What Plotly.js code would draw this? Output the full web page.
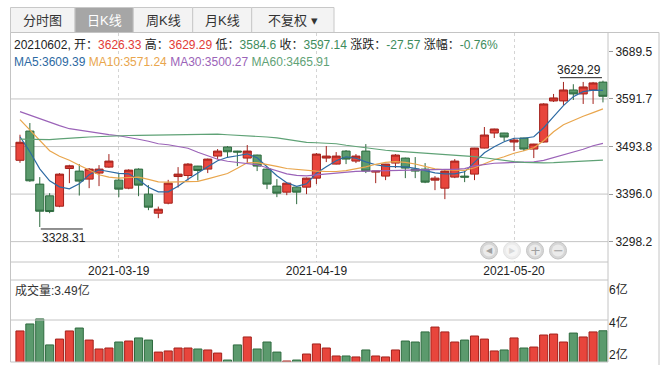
<!DOCTYPE html>
<html><head><meta charset="utf-8">
<script src="https://cdn.plot.ly/plotly-3.0.1.min.js"></script>
<style>html,body{margin:0;padding:0;background:#fff}#chart{width:668px;height:370px}</style>
</head><body><div id="chart"></div>
<script>
const dates = ['2021-03-05','2021-03-08','2021-03-09','2021-03-10','2021-03-11','2021-03-12','2021-03-15','2021-03-16','2021-03-17','2021-03-18',
'2021-03-19','2021-03-22','2021-03-23','2021-03-24','2021-03-25','2021-03-26','2021-03-29','2021-03-30','2021-03-31','2021-04-01',
'2021-04-02','2021-04-06','2021-04-07','2021-04-08','2021-04-09','2021-04-12','2021-04-13','2021-04-14','2021-04-15','2021-04-16',
'2021-04-19','2021-04-20','2021-04-21','2021-04-22','2021-04-23','2021-04-26','2021-04-27','2021-04-28','2021-04-29','2021-04-30',
'2021-05-06','2021-05-07','2021-05-10','2021-05-11','2021-05-12','2021-05-13','2021-05-14','2021-05-17','2021-05-18','2021-05-19',
'2021-05-20','2021-05-21','2021-05-24','2021-05-25','2021-05-26','2021-05-27','2021-05-28','2021-05-31','2021-06-01','2021-06-02'];
const opens = [3465.5,3525.7,3416.5,3392.4,3371.1,3448.6,3443.3,3426.8,3439.2,3451.5,
3424.7,3408.2,3447.4,3395.9,3356.7,3377.3,3432.1,3434.2,3453.6,3447.4,
3474.2,3492.8,3484.5,3470.1,3476.3,3447.4,3412.4,3400.0,3410.3,3410.3,
3428.8,3470.1,3457.7,3484.5,3463.9,3484.5,3441.2,3433.0,3459.8,3470.1,
3447.4,3447.4,3424.7,3408.2,3430.9,3433.0,3437.1,3490.7,3521.6,3521.6,
3503.1,3511.3,3488.6,3503.1,3587.6,3587.6,3610.2,3602.0,3610.2,3626.33];
const highs = [3518.1,3542.2,3430.9,3397.9,3439.0,3456.3,3457.7,3449.5,3455.6,3478.3,
3439.2,3447.0,3449.0,3414.4,3370.3,3425.3,3451.5,3459.8,3454.0,3469.0,
3488.6,3494.8,3485.0,3496.9,3477.0,3449.0,3426.8,3419.0,3411.0,3430.0,
3480.4,3494.8,3482.4,3486.6,3478.3,3498.9,3443.5,3458.0,3478.3,3471.0,
3472.1,3459.8,3433.0,3445.3,3468.0,3445.3,3491.0,3534.0,3530.5,3522.0,
3511.3,3512.0,3499.5,3583.0,3602.0,3626.7,3622.0,3626.7,3626.7,3629.29];
const lows = [3460.4,3421.2,3328.31,3356.7,3369.0,3418.5,3393.0,3408.2,3412.4,3450.0,
3389.7,3406.0,3391.7,3362.9,3346.4,3375.0,3409.5,3423.9,3423.9,3439.2,
3468.0,3472.1,3453.6,3459.8,3443.3,3406.2,3389.7,3393.8,3375.3,3395.9,
3416.5,3461.8,3457.0,3457.7,3459.8,3439.2,3418.5,3424.7,3449.5,3428.8,
3428.8,3418.5,3404.1,3385.6,3428.8,3420.6,3424.7,3490.0,3511.3,3505.1,
3484.5,3484.5,3470.1,3502.0,3585.5,3579.3,3589.6,3581.4,3581.4,3584.6];
const closes = [3502.6,3423.3,3360.8,3360.1,3437.1,3454.2,3422.7,3447.4,3447.4,3463.9,
3406.2,3445.3,3414.4,3369.1,3364.9,3418.5,3437.1,3457.7,3444.5,3468.0,
3484.5,3483.0,3482.5,3484.5,3453.6,3416.5,3397.9,3418.5,3400.0,3428.8,
3478.3,3474.2,3474.2,3468.0,3474.2,3443.3,3443.3,3457.7,3476.3,3449.5,
3443.3,3420.6,3428.8,3443.3,3463.9,3430.9,3490.7,3517.5,3529.9,3513.4,
3507.2,3488.6,3498.9,3581.4,3593.8,3610.2,3602.0,3616.4,3624.71,3597.14];
const ma5 = [3514.0,3483.1,3448.0,3423.3,3410.9,3406.8,3417.1,3435.7,3446.0,3441.8,
3438.7,3437.7,3425.3,3409.9,3400.6,3400.6,3411.9,3426.4,3439.8,3452.1,
3464.5,3471.7,3474.8,3478.9,3470.7,3451.1,3433.6,3419.2,3411.9,3417.1,
3438.7,3452.1,3464.5,3472.8,3469.7,3462.4,3456.3,3453.2,3453.2,3452.1,
3449.0,3443.9,3439.8,3437.7,3437.7,3441.8,3462.4,3481.0,3493.4,3503.7,
3510.9,3510.9,3514.0,3532.5,3555.2,3577.9,3596.4,3606.7,3609.8,3609.39];
const ma10 = [3549.0,3527.4,3504.7,3485.1,3473.8,3465.5,3455.2,3444.9,3435.7,3430.9,
3428.8,3430.1,3430.9,3426.4,3421.2,3420.6,3421.2,3422.9,3422.3,3427.4,
3433.6,3438.3,3449.0,3460.4,3460.8,3457.3,3453.0,3448.6,3446.4,3444.9,
3443.1,3442.5,3442.5,3444.3,3448.0,3452.1,3457.3,3461.4,3462.9,3461.4,
3457.9,3452.6,3448.0,3446.0,3444.9,3444.9,3450.1,3458.3,3466.6,3472.8,
3480.0,3485.1,3491.3,3505.7,3524.3,3538.7,3548.0,3556.2,3563.5,3571.24];
const ma30 = [3565.5,3558.3,3550.1,3542.8,3536.7,3530.5,3527.4,3523.3,3521.2,3518.5,
3516.0,3513.0,3508.8,3504.7,3499.6,3497.5,3494.4,3490.3,3482.0,3474.8,
3467.6,3463.5,3461.0,3459.4,3456.3,3450.1,3443.9,3437.7,3434.6,3433.6,
3435.7,3437.7,3440.2,3441.2,3442.9,3443.3,3443.9,3443.9,3444.3,3444.5,
3444.9,3446.0,3446.6,3447.0,3447.0,3448.4,3454.2,3457.3,3459.4,3460.4,
3460.8,3461.0,3462.4,3465.5,3471.1,3475.8,3482.0,3488.2,3495.4,3500.27];
const ma60 = [3509.2,3508.6,3507.8,3508.2,3509.4,3511.3,3512.3,3513.4,3514.4,3515.6,
3516.0,3516.5,3516.9,3517.3,3517.5,3517.7,3518.1,3518.7,3519.3,3519.5,
3519.3,3518.1,3517.3,3516.5,3514.8,3513.4,3511.5,3508.6,3504.7,3502.2,
3501.6,3501.0,3499.6,3496.5,3493.8,3491.3,3488.2,3486.2,3484.5,3483.1,
3481.4,3480.0,3478.5,3476.9,3476.3,3475.2,3473.2,3470.7,3467.6,3464.9,
3462.9,3461.4,3460.4,3460.4,3460.8,3461.8,3463.3,3464.5,3465.5,3465.91];
const volumes = [3.48,3.91,4.22,2.62,2.98,3.48,3.66,2.92,2.37,2.43,
2.80,2.86,3.05,2.92,2.18,2.25,2.43,2.43,2.37,2.31,
2.12,1.69,2.62,3.11,2.37,2.80,2.18,1.63,1.69,2.06,
2.68,2.43,1.94,1.94,1.88,2.31,1.94,1.88,2.31,2.86,
2.80,3.42,3.72,3.42,2.80,2.92,3.17,2.98,2.25,2.31,
3.05,2.43,2.49,3.23,3.29,2.80,3.35,3.11,3.42,3.49];
const priceTicks = [3298.2, 3396.0, 3493.8, 3591.7, 3689.5];
const dateTicks = ['2021-03-19', '2021-04-19', '2021-05-20'];
const volTicks = [2, 4, 6];
const tabs = ['分时图', '日K线', '周K线', '月K线', '不复权 ▾'];

const W = 668, H = 370;
const px = x => x / W, py = y => 1 - y / H;
const FONT = "Arial, 'Liberation Sans', 'Noto Sans CJK SC', sans-serif";
const RED = '#e8453c', RED_D = '#a3211b', GRN = '#5b9a6d', GRN_D = '#2e6b3f';
const TRED = '#e23b36', TGRN = '#3d8c5c';
const MA_COL = ['#2d6aa3', '#e9a64d', '#9b63b8', '#5fa276'];
const LINE = '#c4c4c4';
const n = dates.length;
const up = closes.map((c, i) => c >= opens[i]);

const XL = 10.5, XR = 608, XO = 659;
const xrange = [-0.96, 59.51];

const traces = [
  {type: 'candlestick', x: dates, open: opens, high: highs, low: lows, close: closes,
   xaxis: 'x', yaxis: 'y', whiskerwidth: 0, hoverinfo: 'skip',
   increasing: {line: {color: RED_D, width: 1}, fillcolor: RED},
   decreasing: {line: {color: GRN_D, width: 1}, fillcolor: GRN}}
];
[ma5, ma10, ma30, ma60].forEach((m, k) => traces.push({
  type: 'scatter', mode: 'lines', x: dates, y: m, xaxis: 'x', yaxis: 'y',
  line: {color: MA_COL[k], width: 1.2}, hoverinfo: 'skip'}));
traces.push({type: 'bar', x: dates, y: volumes, xaxis: 'x2', yaxis: 'y2', hoverinfo: 'skip',
  marker: {color: up.map(u => u ? RED : GRN), line: {color: up.map(u => u ? RED_D : GRN_D), width: 1}}});

const shapes = [];
const hl = (x0, x1, y, c) => shapes.push({type: 'line', xref: 'paper', yref: 'paper', x0: px(x0), x1: px(x1), y0: py(y), y1: py(y), line: {color: c || LINE, width: 1}});
const vl = (x, y0, y1, c) => shapes.push({type: 'line', xref: 'paper', yref: 'paper', x0: px(x), x1: px(x), y0: py(y0), y1: py(y1), line: {color: c || LINE, width: 1}});

// tabs
const tabEdges = [10.5, 75, 133.3, 192.7, 251.7, 334];
const annotations = [];
tabs.forEach((t, i) => {
  const sel = i === 1;
  shapes.push({type: 'rect', xref: 'paper', yref: 'paper', x0: px(tabEdges[i]), x1: px(tabEdges[i + 1]), y0: py(32.5), y1: py(7.5),
    fillcolor: sel ? '#a6a6a6' : '#f3f3f3', line: {color: '#c8c8c8', width: 1}, layer: 'below'});
  annotations.push({xref: 'paper', yref: 'paper', x: px((tabEdges[i] + tabEdges[i + 1]) / 2), y: py(20), text: t, showarrow: false,
    xanchor: 'center', yanchor: 'middle', font: {family: FONT, size: 13, color: sel ? '#ffffff' : '#333333'}});
});

// frame
hl(XL, XO, 32.5); vl(XL, 32.5, 362); vl(XR, 32.5, 362); vl(XO, 32.5, 365);
hl(XL, XR, 262); hl(XL, XR, 280); hl(XL, XR, 362); hl(XL, XR, 320);
// price gridlines
priceTicks.slice(0, 4).forEach(p => shapes.push({type: 'line', xref: 'paper', yref: 'y', x0: px(XL), x1: px(XR), y0: p, y1: p, line: {color: LINE, width: 1}, layer: 'below'}));

// hi / lo labels
let iHi = 0, iLo = 0;
highs.forEach((h, i) => { if (h > highs[iHi]) iHi = i; });
lows.forEach((l, i) => { if (l < lows[iLo]) iLo = i; });
const lblFont = {family: FONT, size: 12, color: '#222'};
annotations.push({xref: 'x', yref: 'y', x: dates[iHi], y: highs[iHi], text: highs[iHi].toFixed(2), showarrow: false,
  xanchor: 'right', yanchor: 'bottom', xshift: 0, yshift: 2, font: lblFont});
annotations.push({xref: 'x', yref: 'y', x: dates[iLo], y: lows[iLo], text: lows[iLo].toFixed(2), showarrow: false,
  xanchor: 'left', yanchor: 'top', xshift: 0, yshift: -2, font: lblFont});
shapes.push({type: 'line', xref: 'x', yref: 'y', xsizemode: 'pixel', ysizemode: 'pixel', xanchor: iHi, yanchor: highs[iHi],
  x0: -43, x1: -1, y0: 3, y1: 3, line: {color: '#222', width: 1}});
shapes.push({type: 'line', xref: 'x', yref: 'y', xsizemode: 'pixel', ysizemode: 'pixel', xanchor: iLo, yanchor: lows[iLo],
  x0: 1, x1: 43, y0: -2, y1: -2, line: {color: '#222', width: 1}});

// info line
const last = n - 1;
const chg = closes[last] - closes[last - 1];
const pct = chg / closes[last - 1] * 100;
const col = (v, ref) => v >= ref ? TRED : TGRN;
const s = (c, t) => `<span style="color:${c}">${t}</span>`;
const prev = closes[last - 1];
const info = s('#222', dates[last].replace(/-/g, '') + ', 开：') + s(col(opens[last], prev), opens[last].toFixed(2)) +
  s('#222', ' 高：') + s(col(highs[last], prev), highs[last].toFixed(2)) +
  s('#222', ' 低：') + s(col(lows[last], prev), String(lows[last])) +
  s('#222', ' 收：') + s(col(closes[last], prev), closes[last].toFixed(2)) +
  s('#222', ' 涨跌：') + s(col(chg, 0), chg.toFixed(2)) +
  s('#222', ' 涨幅：') + s(col(chg, 0), pct.toFixed(2) + '%');
annotations.push({xref: 'paper', yref: 'paper', x: px(12), y: py(44), text: info, showarrow: false, xanchor: 'left', yanchor: 'middle',
  font: {family: FONT, size: 12, color: '#222'}});
const maNames = ['MA5', 'MA10', 'MA30', 'MA60'];
const maText = [ma5, ma10, ma30, ma60].map((m, k) => s(MA_COL[k], maNames[k] + ':' + m[last].toFixed(2))).join(' ');
annotations.push({xref: 'paper', yref: 'paper', x: px(12), y: py(62), text: maText, showarrow: false, xanchor: 'left', yanchor: 'middle',
  font: {family: FONT, size: 12}});
annotations.push({xref: 'paper', yref: 'paper', x: px(13), y: py(290), text: '成交量:' + volumes[last].toFixed(2) + '亿', showarrow: false,
  xanchor: 'left', yanchor: 'middle', font: {family: FONT, size: 12, color: '#333'}});

// navigation buttons
const btns = [{x: 489, g: '◀', on: true}, {x: 512, g: '▶', on: false}, {x: 535, g: '+', on: true}, {x: 558, g: '−', on: true}];
btns.forEach(b => {
  const r = 8.5, cy = 250.5;
  shapes.push({type: 'circle', xref: 'paper', yref: 'paper', x0: px(b.x - r), x1: px(b.x + r), y0: py(cy + r), y1: py(cy - r),
    fillcolor: b.on ? '#d6d6d6' : '#ececec', line: {color: b.on ? '#c4c4c4' : '#e2e2e2', width: 1}});
  shapes.push({type: 'circle', xref: 'paper', yref: 'paper', x0: px(b.x - 6), x1: px(b.x + 6), y0: py(cy + 6), y1: py(cy - 6),
    fillcolor: b.on ? '#ebebeb' : '#f5f5f5', line: {width: 0}});
  annotations.push({xref: 'paper', yref: 'paper', x: px(b.x), y: py(cy), text: b.g, showarrow: false, xanchor: 'center', yanchor: 'middle',
    font: {family: "'DejaVu Sans', sans-serif", size: b.g === '+' || b.g === '−' ? 13 : 8, color: b.on ? '#a0a0a0' : '#d8d8d8'}});
});

const layout = {
  width: W, height: H, margin: {l: 0, r: 0, t: 0, b: 0}, paper_bgcolor: '#fff', plot_bgcolor: 'rgba(0,0,0,0)',
  showlegend: false, boxgap: 0.18, boxgroupgap: 0, bargap: 0.18, hovermode: false,
  font: {family: FONT, size: 12, color: '#333'},
  xaxis: {domain: [px(XL), px(XR)], anchor: 'y', type: 'category', range: xrange, rangeslider: {visible: false},
    tickvals: dateTicks, ticktext: dateTicks, ticks: '', showgrid: true, gridcolor: '#d4d4d4', griddash: 'dot', gridwidth: 1,
    showline: false, zeroline: false, tickfont: {family: FONT, size: 12, color: '#222'}, fixedrange: true},
  yaxis: {domain: [py(262), py(32.5)], anchor: 'x', side: 'right', range: [3256.3, 3728.4], tickvals: priceTicks,
    ticktext: priceTicks.map(v => v.toFixed(1)), ticks: 'outside', ticklen: 4, tickcolor: '#999', showgrid: false,
    showline: false, zeroline: false, tickfont: {family: FONT, size: 12, color: '#222'}, fixedrange: true},
  xaxis2: {domain: [px(XL), px(XR)], anchor: 'y2', type: 'category', range: xrange, showticklabels: false, ticks: '',
    showgrid: false, showline: false, zeroline: false, fixedrange: true},
  yaxis2: {domain: [py(362), py(280)], anchor: 'x2', side: 'right', range: [1.5692, 6.615], tickvals: volTicks,
    ticktext: volTicks.map(v => v + '亿'), ticks: '', showgrid: false, showline: false, zeroline: false,
    tickfont: {family: FONT, size: 12, color: '#222'}, fixedrange: true},
  shapes: shapes, annotations: annotations
};
Plotly.newPlot('chart', traces, layout, {staticPlot: true, displayModeBar: false});
</script>
</body></html>
